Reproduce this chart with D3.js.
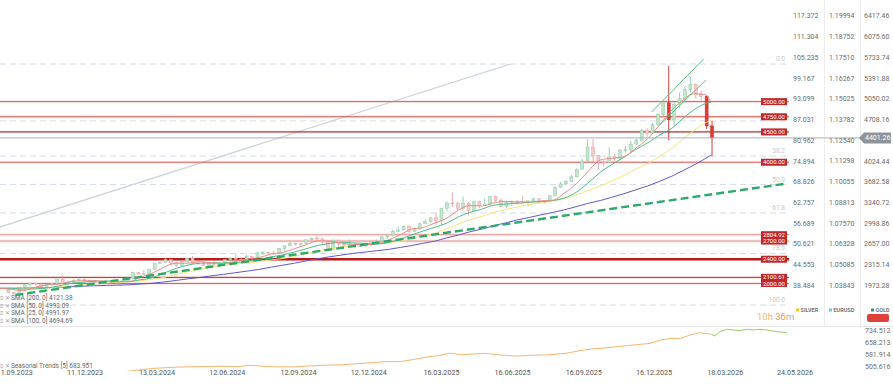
<!DOCTYPE html>
<html><head><meta charset="utf-8">
<script src="https://cdn.jsdelivr.net/npm/d3@7"></script>
<style>
html,body{margin:0;padding:0;background:#fff;}
svg{display:block;font-family:Roboto,"Noto Sans",sans-serif;}
</style></head><body>
<svg id="c" width="893" height="386"></svg>
<script>
// ---------- DATA ----------
const firstWeek = "2023-09-11";   // Monday of first weekly candle
const candles = [ // [open, high, low, close] weekly GOLD
[1918,1933,1901,1924],[1924,1947,1913,1925],[1925,1925,1846,1848],[1848,1858,1810,1833],
[1833,1932,1831,1932],[1932,1997,1908,1981],[1981,2009,1953,2006],[2006,2009,1970,1993],
[1993,1993,1932,1940],[1940,1993,1931,1981],[1981,2008,1965,2002],[2002,2075,2001,2072],
[2072,2135,1995,2004],[2004,2047,1973,2019],[2019,2070,2016,2053],[2053,2088,2052,2063],
[2063,2078,2025,2045],[2045,2062,2013,2049],[2049,2057,2001,2029],[2029,2041,2010,2018],
[2018,2065,2016,2039],[2039,2051,2014,2024],[2024,2031,1984,2013],[2013,2041,2011,2035],
[2035,2088,2025,2083],[2083,2195,2079,2179],[2179,2185,2146,2155],[2155,2222,2146,2165],
[2165,2236,2163,2233],[2233,2330,2228,2329],[2329,2395,2326,2344],[2344,2418,2340,2392],
[2392,2395,2291,2337],[2337,2352,2277,2301],[2301,2378,2291,2360],[2360,2422,2333,2415],
[2415,2450,2325,2334],[2334,2364,2323,2327],[2327,2388,2287,2293],[2293,2335,2287,2333],
[2333,2368,2296,2322],[2322,2335,2293,2326],[2326,2392,2318,2392],[2392,2424,2350,2411],
[2411,2484,2393,2400],[2400,2432,2353,2386],[2386,2477,2366,2443],[2443,2445,2364,2431],
[2431,2509,2425,2507],[2507,2531,2470,2512],[2512,2525,2491,2503],[2503,2529,2472,2497],
[2497,2586,2485,2577],[2577,2625,2546,2622],[2622,2685,2615,2658],[2658,2672,2624,2653],
[2653,2661,2603,2657],[2657,2722,2646,2721],[2721,2758,2708,2747],[2747,2790,2725,2736],
[2736,2750,2643,2685],[2685,2687,2537,2563],[2563,2722,2560,2715],[2715,2721,2605,2650],
[2650,2665,2614,2633],[2633,2726,2631,2648],[2648,2664,2583,2622],[2622,2640,2610,2621],
[2621,2665,2597,2640],
[2640,2697,2615,2690],[2690,2726,2656,2702],[2702,2786,2700,2770],[2770,2817,2730,2798],
[2798,2886,2773,2861],[2861,2942,2851,2883],[2883,2955,2880,2936],[2936,2956,2833,2858],
[2858,2930,2855,2910],[2910,3005,2880,2984],[2984,3057,2982,3023],[3023,3087,3000,3084],
[3084,3168,2971,3037],[3037,3245,2957,3237],[3237,3358,3194,3327],[3327,3500,3260,3319],
[3319,3352,3202,3240],[3240,3438,3207,3325],[3325,3345,3121,3203],[3203,3366,3200,3357],
[3357,3365,3245,3289],[3289,3403,3285,3310],[3310,3446,3293,3432],[3432,3452,3347,3368],
[3368,3398,3255,3274],[3274,3365,3247,3337],[3337,3368,3283,3355],[3355,3375,3310,3350],
[3350,3439,3325,3337],[3337,3363,3268,3363],[3363,3409,3346,3397],[3397,3404,3330,3336],
[3336,3379,3311,3372],[3372,3453,3351,3448],[3448,3600,3436,3586],[3586,3674,3578,3643],
[3643,3707,3628,3685],[3685,3791,3683,3760],[3760,3897,3755,3886],[3886,4059,3880,4018],
[4018,4380,3996,4250],[4250,4381,4004,4113],[4113,4120,3886,4002],[4002,4030,3930,4000],
[4000,4245,3995,4085],[4085,4135,4020,4065],[4065,4220,4040,4200],[4200,4265,4160,4210],
[4210,4350,4170,4300],[4300,4390,4280,4360],[4360,4550,4340,4520],[4520,4560,4420,4480],
[4480,4650,4460,4620],[4620,4820,4600,4790],[4790,5000,4760,4980],[4980,5590,4360,4700],
[4700,5000,4600,4950],[4950,5150,4900,5050],[5050,5250,4980,5200],[5200,5410,5150,5280],
[5280,5300,5050,5120],[5120,5180,5020,5090],[5090,5110,4550,4600],[4600,4680,4100,4401.26]
];
const lastPrice = 4401.26;

const smaDates = ["2023-09-01","2023-09-15","2023-10-01","2023-10-15","2023-11-01","2023-11-15","2023-12-01","2023-12-15",
"2024-01-01","2024-01-15","2024-02-01","2024-02-15","2024-03-01","2024-03-15","2024-04-01","2024-04-15","2024-05-01","2024-05-15","2024-06-01","2024-06-15","2024-07-01","2024-07-15","2024-08-01","2024-08-15","2024-09-01","2024-09-15","2024-10-01","2024-10-15","2024-11-01","2024-11-15","2024-12-01","2024-12-15",
"2025-01-01","2025-01-15","2025-02-01","2025-02-15","2025-03-01","2025-03-15","2025-04-01","2025-04-15","2025-05-01","2025-05-15","2025-06-01","2025-06-15","2025-07-01","2025-07-15","2025-08-01","2025-08-15","2025-09-01","2025-09-15","2025-10-01","2025-10-15","2025-11-01","2025-11-15","2025-12-01","2025-12-15",
"2026-01-01","2026-01-15","2026-02-01","2026-02-15","2026-03-01","2026-03-15","2026-03-24"];
const sma25 = [1925,1920,1905,1880,1940,1975,1990,2030,
2045,2045,2035,2030,2030,2100,2175,2270,2335,2335,2360,2340,2325,2360,2405,2425,2485,2510,2575,2635,2705,2700,2665,2645,
2640,2655,2725,2805,2895,2920,3000,3070,3210,3285,3280,3325,3355,3345,3345,3360,3375,3490,3650,3840,4040,4065,4090,4220,
4390,4600,4860,5020,5130,5120,4991.97];
const sma50 = [1925,1922,1920,1905,1910,1925,1960,2000,
2020,2035,2040,2035,2035,2060,2100,2170,2250,2300,2335,2340,2340,2345,2365,2390,2440,2470,2520,2570,2630,2660,2680,2670,
2660,2650,2680,2730,2800,2860,2930,2990,3100,3170,3230,3290,3310,3320,3340,3350,3370,3410,3510,3650,3840,3960,4080,4200,
4320,4440,4560,4720,4860,4960,4993.09];
const sma100 = [1935,1935,1930,1925,1920,1925,1940,1960,
1980,1995,2010,2020,2030,2045,2070,2100,2150,2190,2230,2270,2300,2320,2340,2360,2390,2410,2450,2490,2540,2570,2600,2620,
2640,2660,2675,2700,2735,2780,2830,2900,2980,3050,3110,3170,3220,3260,3300,3330,3360,3400,3460,3530,3610,3690,3780,3880,
3980,4090,4230,4380,4520,4640,4694.69];
const sma200 = [1925,1930,1928,1926,1927,1930,1937,1945,
1955,1962,1968,1972,1978,1990,2005,2025,2050,2075,2100,2125,2150,2175,2205,2230,2270,2300,2335,2370,2410,2440,2470,2495,
2520,2540,2565,2595,2625,2660,2700,2750,2800,2850,2900,2950,3000,3045,3090,3130,3175,3215,3270,3320,3370,3420,3480,3540,
3610,3680,3770,3860,3950,4050,4121.38];
const smaLabels = ["SMA [200, 0] 4121.38","SMA [50, 0] 4993.09","SMA [25, 0] 4991.97","SMA [100, 0] 4694.69"];

const levels = [5000, 4750, 4500, 4000, 2804.92, 2700, 2400, 2100.61, 2000];
const fibRatios = [0, 23.6, 38.2, 50, 61.8, 78.6, 100];
const fibLabelRatios = [0, 38.2, 50, 61.8, 78.6, 100];
const fibHigh = 5620, fibLow = 1644;
const trendDates = ["2023-10-06","2026-06-30"], trendValues = [1810, 3650];
const greyDates = ["2023-09-01","2025-07-07"], greyValues = [2870, 5620];
const chanUpperDates = ["2026-01-06","2026-03-14"], chanUpperValues = [4829, 5702];
const chanLowerDates = ["2026-01-16","2026-03-17"], chanLowerValues = [4614, 5356];

const silverTicks = [117.372,111.304,105.235,99.167,93.099,87.031,80.962,74.894,68.826,62.757,56.689,50.621,44.553,38.484];
const eurTicks = [1.19994,1.18752,1.17510,1.16267,1.15025,1.13782,1.12540,1.11298,1.10055,1.08813,1.07570,1.06328,1.05085,1.03843];
const goldTicks = [6417.46,6075.60,5733.74,5391.88,5050.02,4708.16,4024.44,3682.58,3340.72,2998.86,2657.00,2315.14,1973.28];
const dateTicks = ["2023-09-11","2023-12-11","2024-03-13","2024-06-12","2024-09-12","2024-12-12","2025-03-16","2025-06-16","2025-09-16","2025-12-16","2026-03-18","2026-05-24"];

const seasonDates = ["2023-09-01","2023-10-15","2023-12-01","2024-01-15","2024-03-01","2024-04-01","2024-05-01","2024-06-01","2024-07-01","2024-07-20","2024-08-05","2024-08-20","2024-09-10","2024-10-01","2024-10-20","2024-11-10","2024-12-01","2024-12-20","2025-01-10","2025-01-25","2025-02-15","2025-03-01","2025-03-20","2025-04-05","2025-04-20","2025-05-05","2025-05-20","2025-06-05","2025-06-25","2025-07-15","2025-08-05","2025-08-25","2025-09-15","2025-10-05","2025-10-20","2025-10-31","2025-11-22","2025-12-13","2026-01-04","2026-01-17","2026-01-30","2026-02-12","2026-02-25","2026-03-09","2026-03-16","2026-03-24",
"2026-03-29","2026-04-04","2026-04-13","2026-04-21","2026-04-30","2026-05-09","2026-05-17","2026-05-26","2026-06-04","2026-06-12","2026-06-21","2026-06-30"];
const seasonValues = [395,410,430,455,478,495,503,506,508,506,515,509,504,505,510,515,518,524,531,537,538,548,565,575,590,580,585,589,578,572,577,580,588,605,616,620,630,641,651,672,682,682,703,718,714,708,
697,724,739,735,730,739,735,739,735,728,722,718];
const seasonTicks = [734.512,658.213,581.914,505.616];
const seasonSplit = "2026-03-24";

// ---------- SCALES ----------
const parse = d3.utcParse("%Y-%m-%d");
const svg = d3.select("#c");
const x = d3.scaleUtc().domain([parse("2023-12-11"), parse("2025-12-16")]).range([66.5, 635.5]);
const yTop = 15.7, yBot = 285.1;
const yGold = d3.scaleLinear().domain([1973.28, 6417.46]).range([yBot, yTop]);
const ySilver = d3.scaleLinear().domain([38.484, 117.372]).range([yBot, yTop]);
const yEur = d3.scaleLinear().domain([1.03843, 1.19994]).range([yBot, yTop]);
const ySeason = d3.scaleLinear().domain([505.616, 734.512]).range([366.7, 330]);

const defs = svg.append("defs");
defs.append("clipPath").attr("id","mainClip").append("rect").attr("x",0).attr("y",0).attr("width",789).attr("height",325);
defs.append("clipPath").attr("id","seasClip").append("rect").attr("x",0).attr("y",327).attr("width",789).attr("height",44);

// separators
svg.append("line").attr("x1",0).attr("x2",893).attr("y1",326.5).attr("y2",326.5).attr("stroke","#e6e6e6");
[824.5, 860.5].forEach(v => svg.append("line").attr("x1",v).attr("x2",v).attr("y1",0).attr("y2",326).attr("stroke","#ececec"));

const main = svg.append("g").attr("clip-path","url(#mainClip)");

// fib dashed lines
const fibVal = r => fibHigh - r/100*(fibHigh - fibLow);
main.selectAll(".fib").data(fibRatios).join("line")
  .attr("x1",0).attr("x2",787).attr("y1",d=>yGold(fibVal(d))).attr("y2",d=>yGold(fibVal(d)))
  .attr("stroke","#d3dde8").attr("stroke-width",1).attr("stroke-dasharray","6,4");

// grey diagonal
const lineG = d3.line().x(d=>x(d[0])).y(d=>yGold(d[1]));
main.append("path").datum(greyDates.map((d,i)=>[parse(d),greyValues[i]]))
  .attr("d",lineG).attr("fill","none").attr("stroke","#cfd4da").attr("stroke-width",1.3);

// level lines
const levelColor = ["#d9605a","#cf5650","#7a2222","#d9605a","#e99a96","#e58f8b","#b71c1c","#9a3a36","#d9605a"];
const levelWidth = [1,1,1,1,1,1,2.4,1,1];
main.selectAll(".lvhalo").data(levels).join("line")
  .attr("x1",0).attr("x2",789).attr("y1",d=>yGold(d)).attr("y2",d=>yGold(d))
  .attr("stroke","#f2b8b5").attr("stroke-opacity",0.3).attr("stroke-width",3);
main.selectAll(".lv").data(levels).join("line")
  .attr("x1",0).attr("x2",789).attr("y1",d=>yGold(d)).attr("y2",d=>yGold(d))
  .attr("stroke",(d,i)=>levelColor[i]).attr("stroke-width",(d,i)=>levelWidth[i]);

// current price line
svg.append("line").attr("x1",0).attr("x2",862).attr("y1",yGold(lastPrice)).attr("y2",yGold(lastPrice))
  .attr("stroke","#a9afb6").attr("stroke-width",1);

// candles
const weeks = d3.utcMonday.range(parse(firstWeek), d3.utcDay.offset(parse(firstWeek), candles.length*7));
const cdata = candles.map((c,i)=>({date:d3.utcDay.offset(weeks[i],2), o:c[0], h:c[1], l:c[2], c:c[3], i}));
const n = cdata.length;
const bright = d => d.i >= n-2 || (d.h - d.l) > 800;
const cg = main.append("g");
cdata.forEach(d=>{
  const up = d.c >= d.o;
  const cx = x(d.date);
  let fill, stroke;
  if (bright(d)) { fill = up ? "#3fa35a" : "#e53935"; stroke = up ? "#2e7d32" : "#c62828"; }
  else { fill = up ? "#c4e4cd" : "#f3cccc"; stroke = up ? "#93cda8" : "#e4a3a3"; }
  cg.append("line").attr("x1",cx).attr("x2",cx).attr("y1",yGold(d.h)).attr("y2",yGold(d.l))
    .attr("stroke", bright(d) ? "#c62828" : stroke).attr("stroke-width",0.9);
  const yt = yGold(Math.max(d.o,d.c)), yb = yGold(Math.min(d.o,d.c));
  cg.append("rect").attr("x",cx-1.5).attr("width",3).attr("y",yt).attr("height",Math.max(0.8,yb-yt))
    .attr("fill",fill).attr("stroke",stroke).attr("stroke-width",0.5);
});

// SMA lines
const smaSeries = [
  {vals: sma200, color:"#6257c8"},
  {vals: sma100, color:"#f5e57a"},
  {vals: sma50, color:"#4dbb8c"},
  {vals: sma25, color:"#ec8a86"}
];
const smaLine = d3.line().x(d=>x(d[0])).y(d=>yGold(d[1])).curve(d3.curveMonotoneX);
smaSeries.forEach(s=>{
  main.append("path").datum(smaDates.map((d,i)=>[parse(d), s.vals[i]]))
    .attr("d",smaLine).attr("fill","none").attr("stroke",s.color).attr("stroke-width",1);
});

// trend dashed green
main.append("path").datum(trendDates.map((d,i)=>[parse(d),trendValues[i]]))
  .attr("d",lineG).attr("fill","none").attr("stroke","#2daa6a").attr("stroke-width",2.4).attr("stroke-dasharray","8,4");

// channel lines
[[chanUpperDates,chanUpperValues],[chanLowerDates,chanLowerValues]].forEach(([ds,vs])=>{
  main.append("path").datum(ds.map((d,i)=>[parse(d),vs[i]]))
    .attr("d",lineG).attr("fill","none").attr("stroke","#5cc080").attr("stroke-width",1);
});

// fib labels
svg.selectAll(".fibl").data(fibLabelRatios).join("text")
  .attr("x",785).attr("y",d=>yGold(fibVal(d))-3).attr("text-anchor","end")
  .attr("font-size",6.5).attr("fill","#c4c8cc").text(d=>d.toFixed(1));

// level labels
const lvG = svg.append("g");
levels.forEach((v,i)=>{
  const y = yGold(v);
  lvG.append("rect").attr("x",761).attr("y",y-3.5).attr("width",26).attr("height",7).attr("fill","#c0282a");
  lvG.append("text").attr("x",774).attr("y",y+2.1).attr("text-anchor","middle")
    .attr("font-size",6).attr("fill","#fff").text(v.toFixed(2));
});

// right axes
function rightAxis(scale, ticks, xpos, fmt){
  const g = svg.append("g").attr("transform",`translate(${xpos},0)`)
    .call(d3.axisRight(scale).tickValues(ticks).tickSize(0).tickPadding(0).tickFormat(fmt));
  g.select(".domain").remove();
  g.selectAll("text").attr("font-size",7).attr("fill","#6b6b6b").attr("font-family","Roboto,sans-serif");
  return g;
}
rightAxis(ySilver, silverTicks, 793, d=>d.toFixed(3));
rightAxis(yEur, eurTicks, 829, d=>d.toFixed(5));
rightAxis(yGold, goldTicks, 864, d=>d.toFixed(2));

// current price tag
const py = yGold(lastPrice);
svg.append("path").attr("d",`M859,${py} L864,${py-5.5} L891,${py-5.5} L891,${py+5.5} L864,${py+5.5} Z`).attr("fill","#8d949c");
svg.append("text").attr("x",865).attr("y",py+2.4).attr("font-size",7).attr("fill","#fff").text(lastPrice.toFixed(2));

// instrument legend
const inst = [["SILVER","#f3c623",796],["EURUSD","#6ec6e8",829],["GOLD","#2a9d5c",871]];
inst.forEach(([t,c,xx])=>{
  svg.append("rect").attr("x",xx).attr("y",308.5).attr("width",3).attr("height",3).attr("fill",c);
  svg.append("text").attr("x",xx+4.5).attr("y",312).attr("font-size",5.5).attr("font-weight","bold").attr("fill","#777").text(t);
});
svg.append("rect").attr("x",867).attr("y",314).attr("width",22).attr("height",8).attr("rx",2).attr("fill","#e0403a");

// countdown
const cd = svg.append("text").attr("x",757).attr("y",319.5).attr("font-size",9.5);
cd.append("tspan").attr("fill","#f6b46a").text("10h ");
cd.append("tspan").attr("fill","#f39a35").text("36");
cd.append("tspan").attr("fill","#aaa").text("m");

// SMA legend
smaLabels.forEach((t,i)=>{
  const y = 300 + i*7.5;
  svg.append("text").attr("x",0).attr("y",y).attr("font-size",6).attr("fill","#9a9a9a").text("≡ ✕");
  svg.append("text").attr("x",11).attr("y",y).attr("font-size",6.5).attr("fill","#666").text(t);
});
svg.append("text").attr("x",0).attr("y",367.5).attr("font-size",6).attr("fill","#9a9a9a").text("≡ ✕");
svg.append("text").attr("x",11).attr("y",367.5).attr("font-size",6.5).attr("fill","#666").text("Seasonal Trends [5] 683.951");

// seasonal panel
const sLine = d3.line().x(d=>x(d[0])).y(d=>ySeason(d[1]));
const sAll = seasonDates.map((d,i)=>[parse(d), seasonValues[i]]);
const split = parse(seasonSplit);
const sg = svg.append("g").attr("clip-path","url(#seasClip)");
sg.append("path").datum(sAll.filter(d=>d[0]<=split)).attr("d",sLine).attr("fill","none").attr("stroke","#f9b56f").attr("stroke-width",1);
sg.append("path").datum(sAll.filter(d=>d[0]>=split)).attr("d",sLine).attr("fill","none").attr("stroke","#9ccc65").attr("stroke-width",1);
rightAxis(ySeason, seasonTicks, 865, d=>d.toFixed(3));

// date axis
const gx = svg.append("g").attr("transform","translate(0,370)")
  .call(d3.axisBottom(x).tickValues(dateTicks.map(parse)).tickSize(0).tickPadding(0).tickFormat(d3.utcFormat("%d.%m.%Y")));
gx.select(".domain").remove();
gx.selectAll("text").attr("font-size",7.2).attr("fill","#555").attr("text-anchor","start").attr("font-family","Roboto,sans-serif");
gx.selectAll("text").filter((d,i)=>i===dateTicks.length-1).attr("dx",18);
</script>
</body></html>
